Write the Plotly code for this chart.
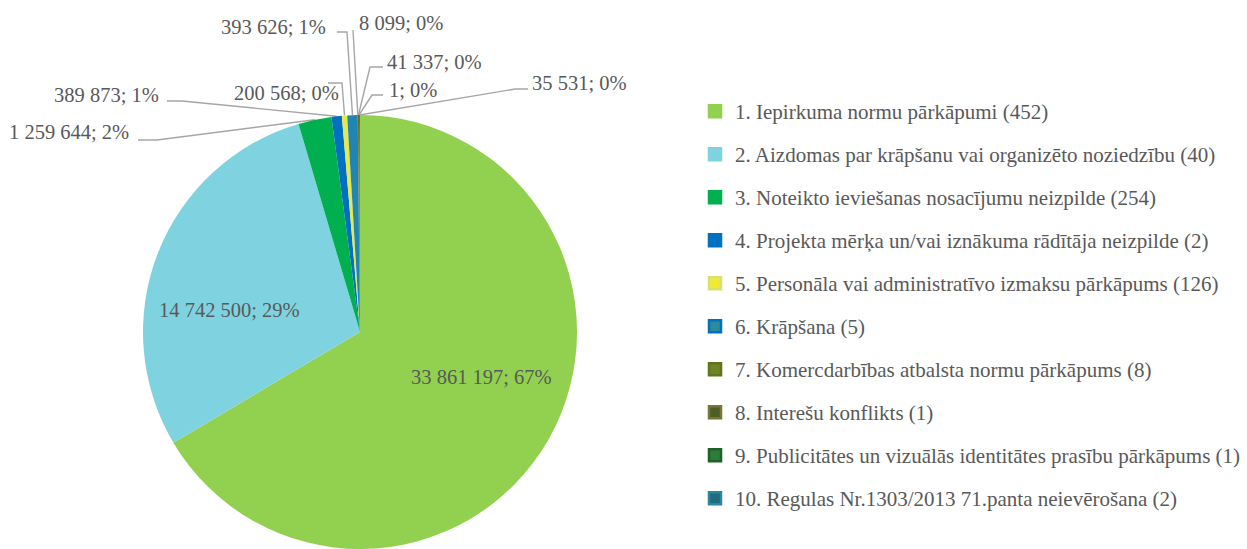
import math
import plotly.graph_objects as go

# ---------------- data ----------------
categories = [
    "1. Iepirkuma normu pārkāpumi (452)",
    "2. Aizdomas par krāpšanu vai organizēto noziedzību (40)",
    "3. Noteikto ieviešanas nosacījumu neizpilde (254)",
    "4. Projekta mērķa un/vai iznākuma rādītāja neizpilde (2)",
    "5. Personāla vai administratīvo izmaksu pārkāpums (126)",
    "6. Krāpšana (5)",
    "7. Komercdarbības atbalsta normu pārkāpums (8)",
    "8. Interešu konflikts (1)",
    "9. Publicitātes un vizuālās identitātes prasību pārkāpums (1)",
    "10. Regulas Nr.1303/2013 71.panta neievērošana (2)",
]
values = [33861197, 14742500, 1259644, 389873, 200568, 393626, 8099, 41337, 1, 35531]
percent_labels = [67, 29, 2, 1, 0, 1, 0, 0, 0, 0]

# ---------------- styles ----------------
slice_colors = ["#92D050", "#7FD3E0", "#00B050", "#0070C0", "#E8E84A",
                "#1E86B0", "#5E7A1E", "#66662A", "#1E6B2E", "#1C7C95"]
legend_fill = ["#92D050", "#7FD3E0", "#00B050", "#0070C0", "#F2E835",
               "#2E8B9A", "#6F8422", "#4F5E24", "#2E7D35", "#1F6B80"]
legend_border = ["#92D050", "#7FD3E0", "#00B050", "#0070C0", "#D8E26A",
                 "#0070C0", "#5E751C", "#787538", "#1E5F2A", "#2B86A0"]
TEXT = "#595959"
LEADER = "#A6A6A6"
FONT = "Liberation Serif"

W, H = 1247, 549
CX, CY, R = 360, 332, 217

# label layout (pixel positions of text, and leader elbows)
label_layout = [
    dict(x=481.5, y=377, xanchor="center", leader=None),
    dict(x=229, y=310, xanchor="center", leader=None),
    dict(x=131, y=132, xanchor="right", leader=[(138, 140), (157, 140)]),
    dict(x=161, y=95, xanchor="right", leader=[(167, 101), (182, 101)]),
    dict(x=341, y=93, xanchor="right", leader=[(328, 83), (342, 83)]),
    dict(x=328, y=27, xanchor="right", leader=[(337, 32), (347, 32)]),
    dict(x=357, y=23, xanchor="left", leader=[(353, 30)]),
    dict(x=385, y=62, xanchor="left", leader=[(383, 67), (370, 67)]),
    dict(x=387, y=90, xanchor="left", leader=[(383, 95), (372, 95)]),
    dict(x=530, y=83, xanchor="left", leader=[(528, 89), (515, 89)]),
]

total = sum(values)


def edge_point(i):
    start = sum(values[:i])
    mid = (start + values[i] / 2) / total
    th = 2 * math.pi * mid
    return CX + R * math.sin(th), CY - R * math.cos(th)


def fmt(v):
    return f"{v:,}".replace(",", " ")


fig = go.Figure()

fig.add_trace(go.Pie(
    values=values,
    labels=categories,
    sort=False,
    direction="clockwise",
    rotation=0,
    marker=dict(colors=slice_colors, line=dict(width=0)),
    textinfo="none",
    hoverinfo="label+value+percent",
    showlegend=False,
    domain=dict(x=[(CX - R) / W, (CX + R) / W],
                y=[(H - CY - R) / H, (H - CY + R) / H]),
))

# leader lines (end point on the slice edge, computed from the data)
for i, lay in enumerate(label_layout):
    if lay["leader"] is None:
        continue
    ex, ey = edge_point(i)
    xs = [p[0] for p in lay["leader"]] + [ex]
    ys = [p[1] for p in lay["leader"]] + [ey]
    fig.add_trace(go.Scatter(x=xs, y=ys, mode="lines",
                             line=dict(color=LEADER, width=1.4),
                             showlegend=False, hoverinfo="skip"))

# legend entries
for i, name in enumerate(categories):
    fig.add_trace(go.Scatter(
        x=[None], y=[None], mode="markers", name=name,
        legendgroup=f"g{i}",
        marker=dict(symbol="square", size=12, color=legend_fill[i],
                    line=dict(color=legend_border[i], width=2.5)),
        hoverinfo="skip",
    ))

for i, lay in enumerate(label_layout):
    fig.add_annotation(
        x=lay["x"], y=lay["y"], xref="x", yref="y",
        text=f"{fmt(values[i])}; {percent_labels[i]}%",
        showarrow=False, xanchor=lay["xanchor"], yanchor="middle",
        font=dict(family=FONT, size=20.5, color=TEXT),
    )

fig.update_layout(
    width=W, height=H,
    margin=dict(l=0, r=0, t=0, b=0),
    paper_bgcolor="white", plot_bgcolor="rgba(0,0,0,0)",
    xaxis=dict(range=[0, W], visible=False, domain=[0, 1], fixedrange=True),
    yaxis=dict(range=[H, 0], visible=False, domain=[0, 1], fixedrange=True),
    showlegend=True,
    legend=dict(
        x=695 / W, y=1 - 91 / H, xanchor="left", yanchor="top",
        font=dict(family=FONT, size=21, color=TEXT),
        tracegroupgap=12.7, bgcolor="rgba(0,0,0,0)",
    ),
)

fig.write_html("out.html",
               config={"displayModeBar": False},
               post_script="document.body.style.margin='0px';document.body.style.overflow='hidden';")
